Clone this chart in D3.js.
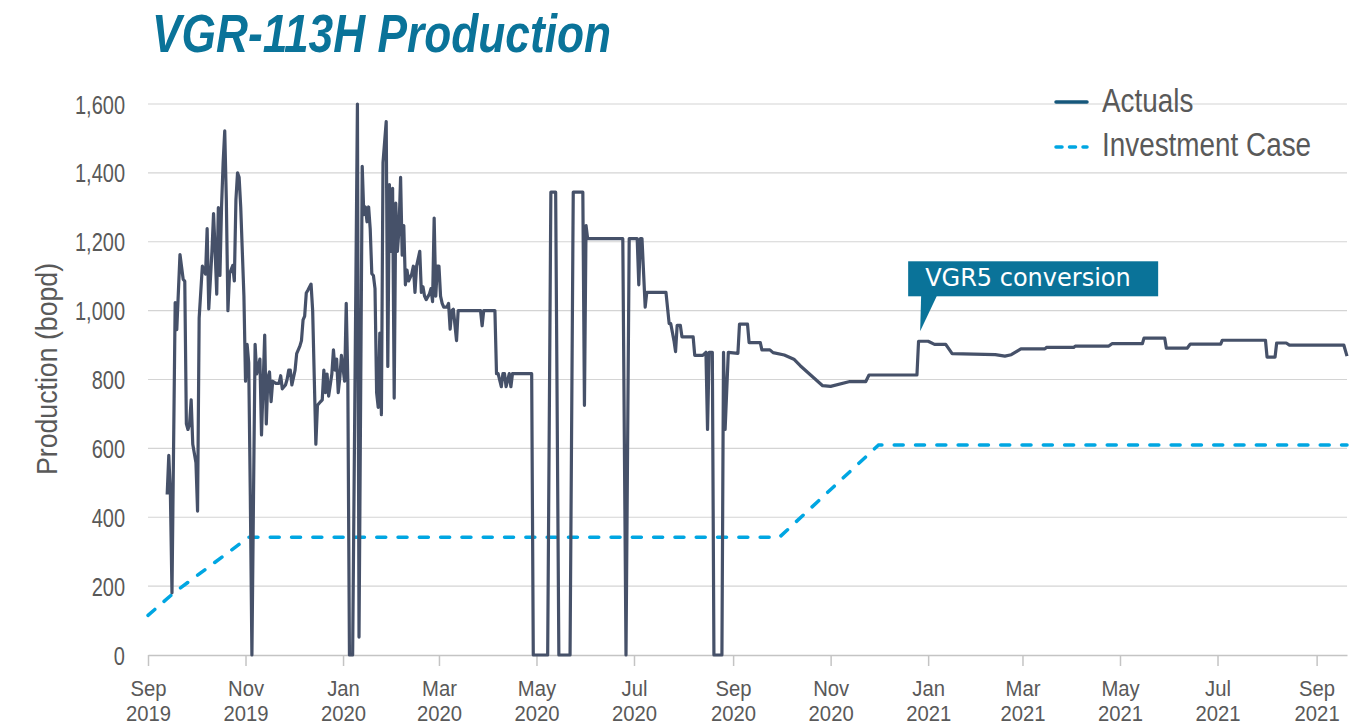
<!DOCTYPE html>
<html><head><meta charset="utf-8">
<script src="https://cdn.jsdelivr.net/npm/d3@7"></script>
<style>
body{margin:0;background:#fff;}
svg{display:block;}
</style></head><body>
<svg id="chart" width="1362" height="727"></svg>
<script>
const chartTitle = "VGR-113H Production";
const yTitle = "Production (bopd)";
const seriesNames = ["Actuals", "Investment Case"];
const yTicks = [0, 200, 400, 600, 800, 1000, 1200, 1400, 1600];
const xTickDates = ["2019-09-01","2019-11-01","2020-01-01","2020-03-01","2020-05-01","2020-07-01","2020-09-01","2020-11-01","2021-01-01","2021-03-01","2021-05-01","2021-07-01","2021-09-01"];
const xDomain = ["2019-09-01", "2021-09-20"];
const annotationText = "VGR5 conversion";
const annotationDate = "2020-12-27";
const annotationValue = 940;

const actualDates = ["2019-09-13","2019-09-14","2019-09-15","2019-09-16","2019-09-18","2019-09-19","2019-09-21","2019-09-23","2019-09-24","2019-09-25","2019-09-26","2019-09-27","2019-09-28","2019-09-29","2019-10-01","2019-10-02","2019-10-03","2019-10-05","2019-10-07","2019-10-08","2019-10-09","2019-10-11","2019-10-12","2019-10-13","2019-10-14","2019-10-15","2019-10-16","2019-10-17","2019-10-18","2019-10-19","2019-10-20","2019-10-21","2019-10-22","2019-10-24","2019-10-25","2019-10-26","2019-10-27","2019-10-28","2019-10-29","2019-10-31","2019-11-01","2019-11-02","2019-11-03","2019-11-04","2019-11-05","2019-11-06","2019-11-07","2019-11-08","2019-11-10","2019-11-11","2019-11-13","2019-11-14","2019-11-15","2019-11-16","2019-11-17","2019-11-18","2019-11-20","2019-11-22","2019-11-23","2019-11-24","2019-11-26","2019-11-27","2019-11-28","2019-11-29","2019-11-30","2019-12-02","2019-12-03","2019-12-05","2019-12-06","2019-12-07","2019-12-08","2019-12-09","2019-12-10","2019-12-12","2019-12-13","2019-12-14","2019-12-15","2019-12-16","2019-12-18","2019-12-19","2019-12-20","2019-12-21","2019-12-22","2019-12-23","2019-12-25","2019-12-26","2019-12-27","2019-12-28","2019-12-29","2019-12-30","2019-12-31","2020-01-02","2020-01-03","2020-01-04","2020-01-05","2020-01-07","2020-01-10","2020-01-11","2020-01-13","2020-01-14","2020-01-15","2020-01-16","2020-01-17","2020-01-18","2020-01-19","2020-01-20","2020-01-21","2020-01-22","2020-01-23","2020-01-24","2020-01-25","2020-01-26","2020-01-28","2020-01-29","2020-01-30","2020-01-31","2020-02-01","2020-02-02","2020-02-03","2020-02-04","2020-02-05","2020-02-06","2020-02-07","2020-02-08","2020-02-09","2020-02-10","2020-02-11","2020-02-13","2020-02-14","2020-02-15","2020-02-16","2020-02-18","2020-02-19","2020-02-20","2020-02-21","2020-02-22","2020-02-24","2020-02-25","2020-02-26","2020-02-27","2020-02-28","2020-02-29","2020-03-01","2020-03-02","2020-03-03","2020-03-04","2020-03-06","2020-03-07","2020-03-08","2020-03-09","2020-03-10","2020-03-12","2020-03-13","2020-03-27","2020-03-28","2020-03-29","2020-04-05","2020-04-06","2020-04-07","2020-04-09","2020-04-10","2020-04-11","2020-04-12","2020-04-14","2020-04-15","2020-04-16","2020-04-28","2020-04-29","2020-05-08","2020-05-10","2020-05-13","2020-05-15","2020-05-22","2020-05-24","2020-05-30","2020-05-31","2020-06-01","2020-06-02","2020-06-24","2020-06-26","2020-06-28","2020-07-03","2020-07-04","2020-07-05","2020-07-06","2020-07-08","2020-07-09","2020-07-21","2020-07-23","2020-07-24","2020-07-26","2020-07-27","2020-07-28","2020-07-30","2020-07-31","2020-08-07","2020-08-08","2020-08-13","2020-08-15","2020-08-16","2020-08-17","2020-08-19","2020-08-20","2020-08-25","2020-08-26","2020-08-27","2020-08-29","2020-09-04","2020-09-05","2020-09-10","2020-09-11","2020-09-18","2020-09-19","2020-09-24","2020-09-26","2020-10-03","2020-10-09","2020-10-13","2020-10-27","2020-11-01","2020-11-13","2020-11-23","2020-11-25","2020-12-25","2020-12-26","2021-01-01","2021-01-05","2021-01-12","2021-01-16","2021-02-12","2021-02-18","2021-02-22","2021-02-28","2021-03-15","2021-03-16","2021-04-02","2021-04-03","2021-04-24","2021-04-26","2021-05-15","2021-05-16","2021-05-29","2021-05-30","2021-06-12","2021-06-14","2021-07-03","2021-07-04","2021-07-31","2021-08-01","2021-08-06","2021-08-07","2021-08-13","2021-08-15","2021-09-18","2021-09-20"];
const actualValues = [466,580,470,181,1023,945,1163,1091,1085,671,655,671,741,612,558,418,978,1129,1106,1238,1005,1172,1282,1172,1048,1299,1102,1301,1430,1522,1322,1000,1107,1131,1086,1322,1400,1387,1301,1042,795,902,849,461,0,461,902,816,859,639,929,671,806,822,736,795,789,789,811,773,784,800,827,827,784,827,875,897,913,973,984,1051,1059,1077,1000,806,612,725,736,741,827,762,816,752,816,886,827,859,762,806,870,795,1021,795,0,0,1600,52,1419,1279,1301,1258,1301,1237,1107,1102,1064,762,719,935,698,1430,1549,838,1366,1172,1355,746,1312,1172,1236,1387,1161,1247,1075,1118,1086,1107,1129,1053,1129,1172,1053,1069,1042,1032,1048,1064,1026,1269,1042,1129,1129,1042,1021,1010,1010,1021,946,1000,1004,913,1000,1000,956,1000,1000,817,817,779,817,817,779,817,779,817,817,0,0,1344,1344,0,0,1344,1344,725,1247,1209,1209,0,1209,1209,1075,1209,1209,1010,1053,1053,962,962,913,881,957,957,924,924,870,870,879,655,879,879,0,0,879,655,879,876,961,961,907,907,886,886,878,871,859,840,782,780,794,794,813,813,911,911,902,902,875,872,868,872,889,889,893,893,897,897,904,904,920,920,891,891,903,903,914,914,865,865,906,906,900,900,868];

const caseDates = ["2019-09-01","2019-09-17","2019-11-03","2020-09-30","2020-12-01","2021-09-20"];
const caseValues = [115,180,342,342,610,610];

const colors = {actual:"#465169", actualLegend:"#16577b", plan:"#00a6e2", title:"#0a7399", text:"#595959", grid:"#d4d4d4", axis:"#c4c4c4"};
const baseFont = "'Liberation Sans', Arial, sans-serif";

const parse = d3.timeParse("%Y-%m-%d");
const svg = d3.select("#chart");
const m = {left:148, right:1347, top:104, bottom:655};

const x = d3.scaleTime().domain(xDomain.map(parse)).range([m.left, m.right]);
const y = d3.scaleLinear().domain([0, 1600]).range([m.bottom, m.top]);

// condensed text: horizontal squeeze of a regular sans face
function ctext(parent, px, py, str, size, sx, anchor, extra) {
  const g = parent.append("g").attr("transform", `translate(${px},${py})${extra || ""} scale(${sx},1)`);
  return g.append("text").attr("text-anchor", anchor).style("font-family", baseFont).style("font-size", size + "px").text(str);
}

// title
ctext(svg, 152, 52, chartTitle, 54, 0.82, "start")
  .style("font-weight", "bold").style("font-style", "italic").attr("fill", colors.title);

// gridlines
svg.append("g").selectAll("line").data(yTicks.filter(d => d > 0)).join("line")
  .attr("x1", m.left).attr("x2", m.right)
  .attr("y1", d => y(d)).attr("y2", d => y(d))
  .attr("stroke", colors.grid).attr("stroke-width", 1.2);

// y axis labels
const yAxis = svg.append("g").attr("transform", `translate(${m.left},0)`)
  .call(d3.axisLeft(y).tickValues(yTicks).tickSize(0).tickFormat(""));
yAxis.select(".domain").remove();
yAxis.selectAll(".tick").each(function(d) {
  ctext(d3.select(this), -23, 9, d3.format(",")(d), 25, 0.8, "end").attr("fill", colors.text);
});

ctext(svg, 57, 369, yTitle, 30, 0.89, "middle", " rotate(-90)").attr("fill", colors.text);

// x axis (two-line month / year labels)
const xAxis = svg.append("g").attr("transform", `translate(0,${m.bottom})`)
  .call(d3.axisBottom(x).tickValues(xTickDates.map(parse)).tickSize(11).tickSizeOuter(0).tickFormat(""));
xAxis.select(".domain").attr("stroke", colors.axis).attr("stroke-width", 1.5);
xAxis.selectAll(".tick line").attr("stroke", colors.axis).attr("stroke-width", 1.5);
xAxis.selectAll(".tick").each(function(d) {
  const g = d3.select(this);
  ctext(g, 0, 41, d3.timeFormat("%b")(d), 22.5, 0.9, "middle").attr("fill", colors.text);
  ctext(g, 0, 66, d3.timeFormat("%Y")(d), 22.5, 0.9, "middle").attr("fill", colors.text);
});

// investment case
const caseData = caseDates.map((d, i) => ({date: parse(d), value: caseValues[i]}));
svg.append("path").datum(caseData)
  .attr("d", d3.line().x(d => x(d.date)).y(d => y(d.value)))
  .attr("fill", "none").attr("stroke", colors.plan).attr("stroke-width", 3.5)
  .attr("stroke-dasharray", "9,12.3").attr("stroke-linecap", "round");

// actuals
const actualData = actualDates.map((d, i) => ({date: parse(d), value: actualValues[i]}));
svg.append("path").datum(actualData)
  .attr("d", d3.line().x(d => x(d.date)).y(d => y(d.value)))
  .attr("fill", "none").attr("stroke", colors.actual).attr("stroke-width", 3.2)
  .attr("stroke-linejoin", "round");

// legend
const legend = svg.append("g");
[{name: seriesNames[0], color: colors.actualLegend, dash: null, y: 102, base: 112},
 {name: seriesNames[1], color: colors.plan, dash: "6,7.5", y: 147, base: 156}].forEach(s => {
  legend.append("line").attr("x1", 1056).attr("x2", 1087).attr("y1", s.y).attr("y2", s.y)
    .attr("stroke", s.color).attr("stroke-width", 3.5).attr("stroke-dasharray", s.dash).attr("stroke-linecap", "round");
  ctext(legend, 1102, s.base, s.name, 34, 0.82, "start").attr("fill", colors.text);
});

// annotation
const ax = x(parse(annotationDate)), ay = y(annotationValue);
const ann = svg.append("g");
ann.append("rect").attr("x", ax - 12).attr("y", ay - 70).attr("width", 250).attr("height", 35).attr("fill", colors.title);
ann.append("path").attr("d", `M${ax},${ay} L${ax + 1},${ay - 36} L${ax + 17},${ay - 36} Z`).attr("fill", colors.title);
ann.append("text").attr("x", ax + 5).attr("y", ay - 45)
  .style("font-size", "24px").style("font-family", "'DejaVu Sans', sans-serif")
  .attr("fill", "#fff").text(annotationText);
</script>
</body></html>
